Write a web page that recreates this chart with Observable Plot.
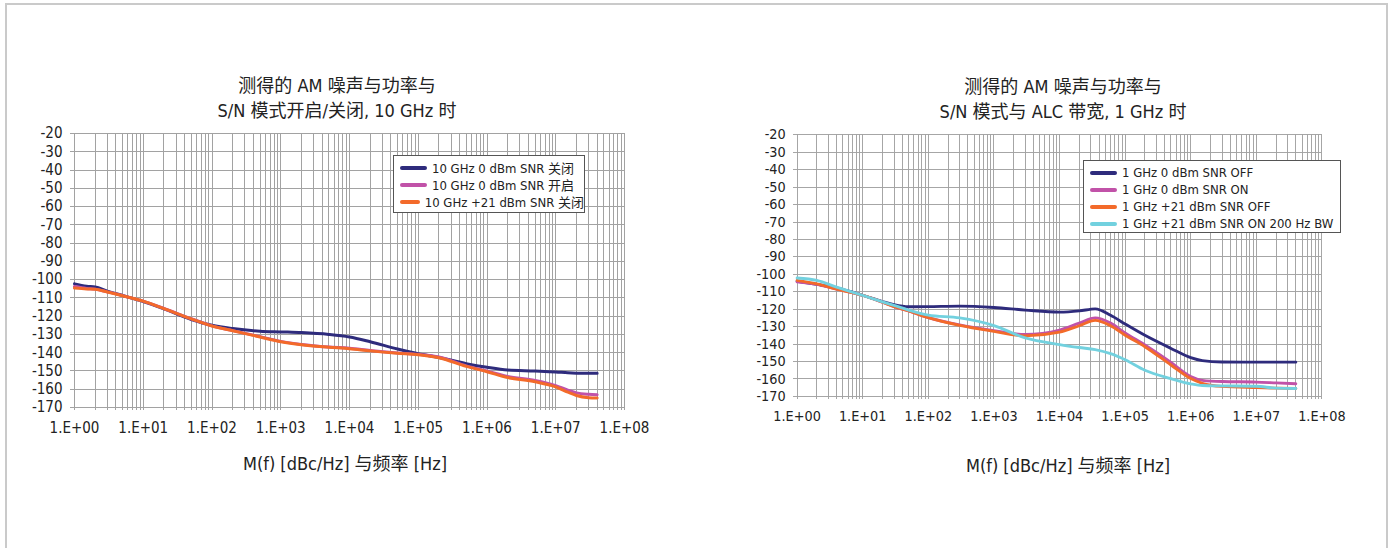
<!DOCTYPE html>
<html>
<head>
<meta charset="utf-8">
<script src="https://cdn.jsdelivr.net/npm/d3@7"></script>
<script src="https://cdn.jsdelivr.net/npm/@observablehq/plot@0.6"></script>
<style>
  html, body { margin: 0; padding: 0; background: #fff; }
  body { width: 1394px; height: 548px; position: relative; overflow: hidden;
         font-family: "Liberation Sans Narrow", "DejaVu Sans Condensed", "Noto Sans CJK SC", sans-serif; color: #222; }
  .frame { position: absolute; left: 5px; top: 3px; width: 1379px; height: 600px; border: 2px solid #cacaca; }
  .chart { position: absolute; }
  .title { position: absolute; width: 400px; text-align: center; font-size: 18px; line-height: 25px; color: #222; }
  .xlabel { position: absolute; width: 400px; text-align: center; font-size: 18px; line-height: 24px; color: #222; }
  .legend { position: absolute; background: #fff; border: 1px solid #555; font-size: 13px; box-sizing: border-box; padding: 3px 0 0 6px; }
  .legend .row { display: flex; align-items: center; height: 17px; white-space: nowrap; }
  .legend .sw { width: 27px; height: 4px; border-radius: 2px; margin-right: 5px; }
</style>
</head>
<body>
<div class="frame"></div>
<div id="root"></div>
<script>
// ---- data ----
const xTicks = [1, 10, 100, 1e3, 1e4, 1e5, 1e6, 1e7, 1e8];
const yTicks = [-20, -30, -40, -50, -60, -70, -80, -90, -100, -110, -120, -130, -140, -150, -160, -170];

const leftTitle = ["测得的 AM 噪声与功率与", "S/N 模式开启/关闭, 10 GHz 时"];
const rightTitle = ["测得的 AM 噪声与功率与", "S/N 模式与 ALC 带宽, 1 GHz 时"];
const xAxisTitle = "M(f) [dBc/Hz] 与频率 [Hz]";

const leftNames = ["10 GHz 0 dBm SNR 关闭", "10 GHz 0 dBm SNR 开启", "10 GHz +21 dBm SNR 关闭"];
const rightNames = ["1 GHz 0 dBm SNR OFF", "1 GHz 0 dBm SNR ON", "1 GHz +21 dBm SNR OFF", "1 GHz +21 dBm SNR ON 200 Hz BW"];
const colors = ["#2e2b7c", "#c152a8", "#f36a2a", "#72d1df"];

const freqLeft = [1, 1.5, 2, 3, 5, 10, 20, 50, 100, 200, 500, 1e3, 2e3, 5e3, 1e4, 2e4, 5e4, 1e5, 2e5, 5e5, 1e6, 2e6, 5e6, 1e7, 1.5e7, 2e7, 3e7, 4e7];
const left10GHz0dBmOff = [-102.3, -103.6, -104, -106.3, -108.7, -112, -116, -121.8, -125, -126.8, -128.2, -128.6, -129, -130, -131.4, -134, -138, -140.6, -142.6, -146, -148, -149.5, -150, -150.5, -151, -151.2, -151.3, -151.3];
const left10GHz0dBmOn = [-103.8, -104.8, -105.2, -106.7, -108.7, -111.8, -115.8, -121.4, -125.3, -127.9, -131.2, -133.8, -135.5, -136.9, -137.6, -138.8, -140.1, -140.9, -142.3, -147.2, -150, -153, -155.2, -158, -160.5, -162, -162.8, -163];
const left10GHz21dBmOff = [-104.6, -105.1, -105.3, -106.8, -108.8, -111.8, -115.9, -121.5, -125.4, -128, -131.4, -134, -135.7, -137, -137.8, -139, -140.3, -141.1, -142.8, -147.5, -150.4, -153.6, -155.9, -158.7, -161.6, -163.4, -164.6, -164.8];

const freqRight = [1, 2, 4, 10, 20, 30, 50, 100, 300, 1e3, 3e3, 1e4, 2e4, 3.5e4, 6e4, 1e5, 2e5, 5e5, 1e6, 1.5e6, 3e6, 1e7, 2e7, 4e7];
const right1GHz0dBmOff = [-104, -105.8, -107.8, -112, -115.6, -117.4, -118.6, -118.5, -118.2, -119, -120.5, -121.7, -121, -119.8, -123.5, -128.5, -135, -142.5, -147.8, -149.5, -150.3, -150.4, -150.4, -150.4];
const right1GHz0dBmOn = [-104.3, -105.8, -108.5, -112, -116, -118.5, -121, -124.8, -129, -132.3, -134.5, -132, -128, -125, -128, -133.6, -140.5, -150.5, -158.6, -160.8, -161.5, -161.8, -162.3, -162.8];
const right1GHz21dBmOff = [-103.5, -105.5, -108.5, -112.1, -116, -118.5, -121, -124.9, -129.3, -132.7, -135.3, -133.2, -129.5, -126.4, -129.5, -134.9, -141.5, -152, -159.8, -162.5, -164.3, -165, -165.3, -165.5];
const right1GHz21dBmOn200Hz = [-102.1, -103.5, -107.3, -112.1, -115.8, -117.8, -120.5, -123.4, -125, -129.4, -136.5, -140.3, -142, -143.2, -145.5, -149, -155, -159.8, -162.8, -163.8, -164, -164.2, -165.3, -165.5];

// ---- helpers ----
const FONT = '"Liberation Sans Narrow", "DejaVu Sans Condensed", "Noto Sans CJK SC", sans-serif';
const gridX = [];
for (let e = 0; e < 8; e++) for (let m = 1; m <= 9; m++) gridX.push(m * Math.pow(10, e));
gridX.push(1e8);

function series(freqs, values) { return freqs.map((f, i) => ({f, v: values[i]})); }

function makeChart(seriesList) {
  const lines = seriesList.map((s, i) => Plot.line(s, {x: "f", y: "v", stroke: colors[i], strokeWidth: 3, curve: "monotone-x", strokeLinejoin: "round", strokeLinecap: "round"}));
  return Plot.plot({
    width: 700, height: 330,
    marginLeft: 74, marginRight: 76, marginTop: 13, marginBottom: 43,
    x: {type: "log", domain: [1, 1e8], label: null},
    y: {domain: [-170, -20], label: null},
    style: {fontFamily: FONT, fontSize: "15px", color: "#222", background: "transparent", overflow: "visible"},
    marks: [
      Plot.ruleX(gridX, {x: d => d, y1: -171.7, y2: -20, stroke: "#a2a2a2", strokeWidth: 1, strokeOpacity: 1, shapeRendering: "crispEdges"}),
      Plot.ruleY(yTicks, {y: d => d, x1: 0.87, x2: 1e8, stroke: "#a2a2a2", strokeWidth: 1, strokeOpacity: 1, shapeRendering: "crispEdges"}),
      Plot.axisX(xTicks, {tickSize: 0, tickPadding: 15, label: null, tickFormat: d => "1.E+" + String(Math.round(Math.log10(d))).padStart(2, "0")}),
      Plot.axisY(yTicks, {tickSize: 0, tickPadding: 12, label: null, tickFormat: d => String(d)}),
      ...lines
    ]
  });
}

function place(el, left, top) {
  const wrap = document.createElement("div");
  wrap.className = "chart";
  wrap.style.left = left + "px";
  wrap.style.top = top + "px";
  wrap.appendChild(el);
  document.getElementById("root").appendChild(wrap);
}

function addText(cls, lines, cx, top) {
  const d = document.createElement("div");
  d.className = cls;
  d.style.left = (cx - 200) + "px";
  d.style.top = top + "px";
  d.innerHTML = lines.join("<br>");
  document.getElementById("root").appendChild(d);
}

function addLegend(names, left, top, width, height) {
  const d = document.createElement("div");
  d.className = "legend";
  d.style.left = left + "px"; d.style.top = top + "px";
  d.style.width = width + "px"; d.style.height = height + "px";
  names.forEach((n, i) => {
    const r = document.createElement("div");
    r.className = "row";
    const sw = document.createElement("div");
    sw.className = "sw"; sw.style.background = colors[i];
    const t = document.createElement("span");
    t.textContent = n;
    r.appendChild(sw); r.appendChild(t);
    d.appendChild(r);
  });
  document.getElementById("root").appendChild(d);
}

// ---- left chart ----
place(makeChart([
  series(freqLeft, left10GHz0dBmOff),
  series(freqLeft, left10GHz0dBmOn),
  series(freqLeft, left10GHz21dBmOff)
]), 0, 120);
addText("title", leftTitle, 337, 73);
addText("xlabel", [xAxisTitle], 345, 452);
addLegend(leftNames, 393, 155, 192, 58);

// ---- right chart ----
place(makeChart([
  series(freqRight, right1GHz0dBmOff),
  series(freqRight, right1GHz0dBmOn),
  series(freqRight, right1GHz21dBmOff),
  series(freqRight, right1GHz21dBmOn200Hz)
]), 726, 122);
addText("title", rightTitle, 1063, 74);
addText("xlabel", [xAxisTitle], 1068, 454);
addLegend(rightNames, 1083, 160, 258, 73);
</script>
</body>
</html>
